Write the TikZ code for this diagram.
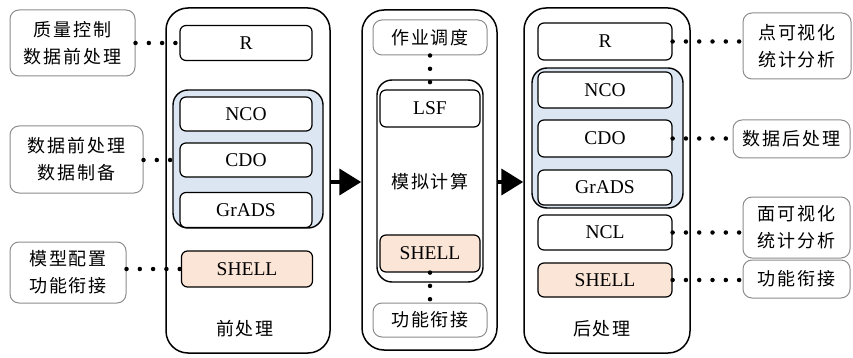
\documentclass[tikz,border=0pt]{standalone}
\usepackage{fontspec}
\setmainfont{Liberation Serif}
\newfontfamily\cjk{Noto Sans CJK SC}[LetterSpace=10]
\usetikzlibrary{arrows.meta}
\definecolor{grpblue}{HTML}{DCE6F2}
\definecolor{shellpeach}{HTML}{FBE5D6}
\definecolor{notegray}{HTML}{8C8C8C}

\begin{document}
\begin{tikzpicture}[x=1pt,y=-1pt,
  panel/.style={draw,line width=1.5pt,rounded corners=22pt,inner sep=0pt},
  group/.style={draw,line width=1.4pt,rounded corners=15pt,inner sep=0pt},
  tool/.style={draw,line width=1.2pt,rounded corners=6pt,fill=white,inner sep=0pt,
    minimum width=132pt,minimum height=35pt,font=\fontsize{19.5}{22}\selectfont},
  note/.style={draw=notegray,line width=1pt,rounded corners=9pt,inner sep=0pt,
    align=center,font=\cjk\fontsize{18}{27}\selectfont},
  title/.style={inner sep=0pt,font=\cjk\fontsize{18}{22}\selectfont},
  link/.style={line width=4.5pt,line cap=round,dash pattern=on 0pt off 13.3pt},
  flow/.style={line width=4pt,-{Triangle[length=22pt,width=26pt]}}]
\useasboundingbox (0,0) rectangle (853,358);

% pre-processing
\node[panel,minimum width=164pt,minimum height=345pt] (pre) at (248,180.5) {};
\node[group,fill=grpblue,minimum width=150pt,minimum height=138pt] (grpA) at (248,159) {};
\node[tool] (rA) at (246,43) {R};
\node[tool,minimum height=34pt] (ncoA) at (246,114) {NCO};
\node[tool,minimum height=34pt] (cdoA) at (246,160) {CDO};
\node[tool] (gradsA) at (246,210) {GrADS};
\node[tool,fill=shellpeach,minimum width=131pt,minimum height=36pt] (shellA) at (247,269) {SHELL};
\node[title] (preT) at (245,329) {前处理};

% simulation
\node[panel,minimum width=135pt,minimum height=340pt] (sim) at (429.5,180) {};
\node[note,minimum width=114pt,minimum height=35pt] (job) at (430,37.5) {作业调度};
\node[group,fill=white,minimum width=106pt,minimum height=202pt] (grpB) at (430,181) {};
\node[tool,minimum width=100pt,minimum height=37pt] (lsf) at (430,108.5) {LSF};
\node[title] (simT) at (430,182) {模拟计算};
\node[tool,fill=shellpeach,minimum width=100pt,minimum height=37pt] (shellB) at (430,253.5) {SHELL};
\node[note,minimum width=114pt,minimum height=34pt] (glueB) at (430,320) {功能衔接};

% post-processing
\node[panel,minimum width=166pt,minimum height=345pt] (post) at (607,180.5) {};
\node[group,fill=grpblue,minimum width=151pt,minimum height=140pt] (grpC) at (607.5,138) {};
\node[tool,minimum width=134pt,minimum height=37pt] (rC) at (605,41.5) {R};
\node[tool,minimum width=134pt,minimum height=36pt] (ncoC) at (605,90) {NCO};
\node[tool,minimum width=134pt,minimum height=37pt] (cdoC) at (605,138.5) {CDO};
\node[tool,minimum width=134pt] (gradsC) at (605,187.5) {GrADS};
\node[tool,minimum width=134pt] (nclC) at (605,232.5) {NCL};
\node[tool,fill=shellpeach,minimum width=134pt,minimum height=34pt] (shellC) at (605,280) {SHELL};
\node[title] (postT) at (602,329) {后处理};

% notes
\node[note,minimum width=125pt,minimum height=66pt] (qc) at (72.5,43) {质量控制\\数据前处理};
\node[note,minimum width=133pt,minimum height=67pt] (prep) at (76.5,159.5) {数据前处理\\数据制备};
\node[note,minimum width=116pt,minimum height=61pt] (conf) at (68,272.5) {模型配置\\功能衔接};
\node[note,minimum width=108pt,minimum height=66pt] (ptvis) at (797,46) {点可视化\\统计分析};
\node[note,minimum width=117pt,minimum height=38pt] (postp) at (791.5,139) {数据后处理};
\node[note,minimum width=107pt,minimum height=61pt] (arvis) at (796.5,227.5) {面可视化\\统计分析};
\node[note,minimum width=107pt,minimum height=38pt] (glueC) at (796.5,279) {功能衔接};

% flow
\draw[flow] (pre.east |- 0,182) -- (sim.west |- 0,182);
\draw[flow] (sim.east |- 0,182) -- (post.west |- 0,182);

% dotted links
\draw[link] (qc.east |- rA.west) -- (rA.west);
\draw[link] (prep.east |- cdoA.west) -- (grpA.west |- cdoA.west);
\draw[link] (conf.east |- shellA.west) -- (shellA.west);
\draw[link] (job.south) -- (lsf.north);
\draw[link] (shellB.south) -- (glueB.north);
\draw[link] (rC.east) -- (rC.east -| ptvis.west);
\draw[link] (cdoC.east) -- (cdoC.east -| postp.west);
\draw[link] (nclC.east) -- (nclC.east -| arvis.west);
\draw[link] (shellC.east) -- (shellC.east -| glueC.west);
\end{tikzpicture}
\end{document}
